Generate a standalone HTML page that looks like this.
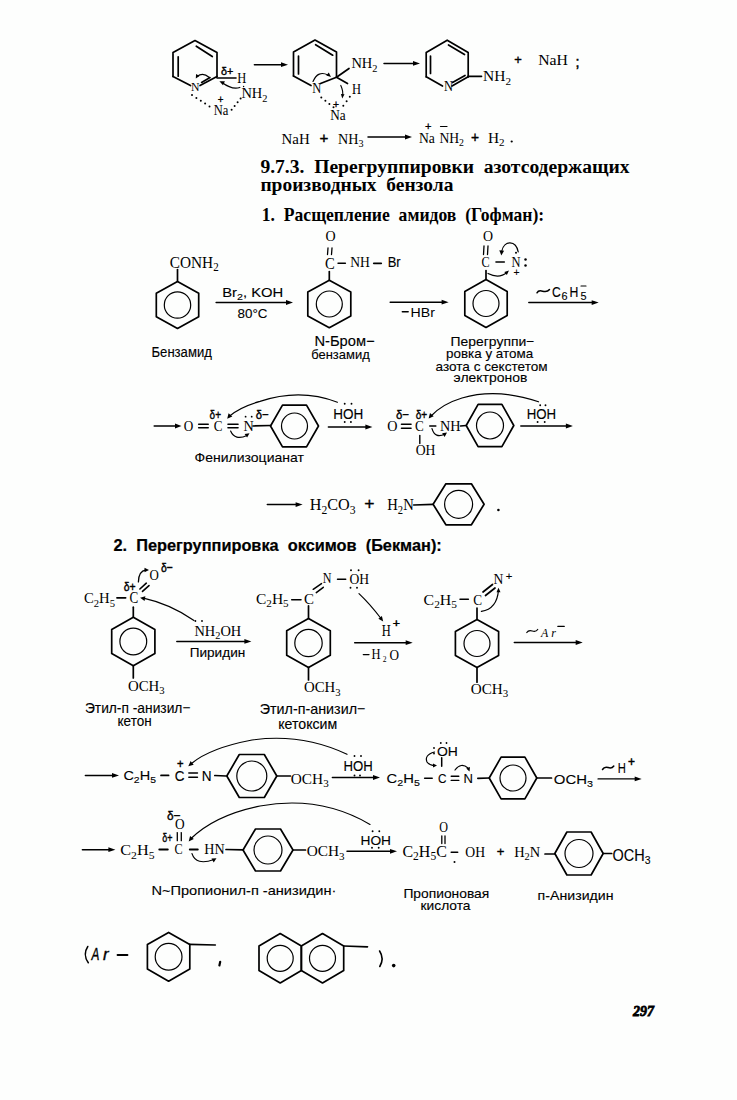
<!DOCTYPE html>
<html><head><meta charset="utf-8"><style>
html,body{margin:0;padding:0;background:#fdfefd;}
svg{display:block;}
</style></head><body>
<svg width="737" height="1100" viewBox="0 0 737 1100" stroke="#000" stroke-linecap="round">
<rect x="0" y="0" width="737" height="1100" fill="#fdfefd" stroke="none"/>
<polyline points="173.0,76.5 173.0,52.5 195.0,40.5 217.0,52.5 217.0,76.5" fill="none" stroke-width="1.7" stroke-linejoin="round"/>
<line x1="173.0" y1="76.5" x2="190.5" y2="85.5" stroke-width="1.7"/>
<line x1="200.0" y1="85.5" x2="217.0" y2="76.5" stroke-width="1.7"/>
<line x1="178.2" y1="56.8" x2="178.2" y2="76.2" stroke-width="1.7"/>
<line x1="196.3" y1="46.2" x2="212.3" y2="56.5" stroke-width="1.7"/>
<line x1="201.6" y1="82.4" x2="210.0" y2="77.6" stroke-width="1.7"/>
<g transform="translate(191.00,91.20) scale(0.9028,1)" font-family="Liberation Serif" font-weight="normal" font-style="normal" xml:space="preserve" stroke="#000" stroke-width="0.0" fill="#000"><text x="0.00" y="0.00" font-size="13.08">N</text></g>
<line x1="217.0" y1="78.0" x2="236.0" y2="78.0" stroke-width="1.6"/>
<g transform="translate(237.30,83.00) scale(0.9028,1)" font-family="Liberation Serif" font-weight="normal" font-style="normal" xml:space="preserve" stroke="#000" stroke-width="0.0" fill="#000"><text x="0.00" y="0.00" font-size="13.85">H</text></g>
<g transform="translate(221.00,74.80) scale(0.9441,1)" font-family="Liberation Sans" font-weight="normal" font-style="normal" xml:space="preserve" stroke="#000" stroke-width="0.4" fill="#000"><text x="0.00" y="0.00" font-size="11.43">δ+</text></g>
<g transform="translate(241.40,98.40) scale(0.9897,1)" font-family="Liberation Serif" font-weight="normal" font-style="normal" xml:space="preserve" stroke="#000" stroke-width="0.0" fill="#000"><text x="0.00" y="0.00" font-size="14.62">NH</text><text x="21.11" y="3.33" font-size="10.52">2</text></g>
<circle cx="243.6" cy="86.5" r="0.7" stroke="none" fill="#000"/>
<g transform="translate(213.70,114.70) scale(0.8596,1)" font-family="Liberation Serif" font-weight="normal" font-style="normal" xml:space="preserve" stroke="#000" stroke-width="0.0" fill="#000"><text x="0.00" y="0.00" font-size="14.62">Na</text></g>
<g transform="translate(217.80,102.50) scale(0.9828,1)" font-family="Liberation Sans" font-weight="normal" font-style="normal" xml:space="preserve" stroke="#000" stroke-width="0.3" fill="#000"><text x="0.00" y="0.00" font-size="10.00">+</text></g>
<circle cx="192.0" cy="95.0" r="1.0" stroke="none" fill="#000"/>
<circle cx="196.4" cy="97.9" r="1.0" stroke="none" fill="#000"/>
<circle cx="200.8" cy="100.8" r="1.0" stroke="none" fill="#000"/>
<circle cx="205.1" cy="103.6" r="1.0" stroke="none" fill="#000"/>
<circle cx="209.5" cy="106.5" r="1.0" stroke="none" fill="#000"/>
<circle cx="231.6" cy="109.8" r="1.0" stroke="none" fill="#000"/>
<circle cx="234.6" cy="106.0" r="1.0" stroke="none" fill="#000"/>
<circle cx="237.6" cy="102.2" r="1.0" stroke="none" fill="#000"/>
<circle cx="240.6" cy="98.4" r="1.0" stroke="none" fill="#000"/>
<path d="M239.8,87.5 Q232,90 222,82.5" fill="none" stroke-width="1.3"/>
<polygon points="219.4,81.2 223.0,85.3 224.9,81.3" stroke="none" fill="#000"/>
<path d="M209,77.3 Q203,72 197,76.5" fill="none" stroke-width="1.2"/>
<polygon points="195.8,78.5 199.5,76.0 196.1,74.0" stroke="none" fill="#000"/>
<line x1="254.4" y1="64.7" x2="283.8" y2="64.7" stroke-width="1.5"/>
<polygon points="288.0,64.7 281.0,62.3 281.0,67.1" stroke="none" fill="#000"/>
<polyline points="293.5,76.0 293.5,52.0 315.0,40.0 336.5,52.0 336.5,77.2" fill="none" stroke-width="1.7" stroke-linejoin="round"/>
<line x1="293.5" y1="76.0" x2="311.0" y2="85.5" stroke-width="1.7"/>
<line x1="320.5" y1="83.5" x2="336.5" y2="77.2" stroke-width="1.7"/>
<line x1="298.5" y1="56.0" x2="298.5" y2="74.0" stroke-width="1.7"/>
<line x1="315.6" y1="44.7" x2="332.7" y2="55.2" stroke-width="1.7"/>
<g transform="translate(312.30,92.70) scale(0.8553,1)" font-family="Liberation Serif" font-weight="normal" font-style="normal" xml:space="preserve" stroke="#000" stroke-width="0.0" fill="#000"><text x="0.00" y="0.00" font-size="14.62">N</text></g>
<line x1="336.5" y1="77.2" x2="349.0" y2="68.5" stroke-width="1.7"/>
<g transform="translate(351.40,68.30) scale(0.9897,1)" font-family="Liberation Serif" font-weight="normal" font-style="normal" xml:space="preserve" stroke="#000" stroke-width="0.0" fill="#000"><text x="0.00" y="0.00" font-size="14.62">NH</text><text x="21.11" y="3.33" font-size="10.52">2</text></g>
<line x1="336.5" y1="77.2" x2="347.5" y2="83.5" stroke-width="1.7"/>
<g transform="translate(352.00,93.50) scale(0.8553,1)" font-family="Liberation Serif" font-weight="normal" font-style="normal" xml:space="preserve" stroke="#000" stroke-width="0.0" fill="#000"><text x="0.00" y="0.00" font-size="14.62">H</text></g>
<path d="M313,81.5 Q318,70 328,75" fill="none" stroke-width="1.2"/>
<polygon points="331.0,77.0 328.8,72.6 326.3,75.6" stroke="none" fill="#000"/>
<path d="M340.8,85.4 Q343.5,91 342.5,96" fill="none" stroke-width="1.1"/>
<polygon points="342.3,98.6 344.5,94.3 340.9,94.0" stroke="none" fill="#000"/>
<circle cx="321.3" cy="97.6" r="1.0" stroke="none" fill="#000"/>
<circle cx="325.4" cy="100.8" r="1.0" stroke="none" fill="#000"/>
<circle cx="329.4" cy="104.1" r="1.0" stroke="none" fill="#000"/>
<circle cx="333.5" cy="107.3" r="1.0" stroke="none" fill="#000"/>
<circle cx="349.8" cy="96.8" r="1.0" stroke="none" fill="#000"/>
<circle cx="346.6" cy="101.2" r="1.0" stroke="none" fill="#000"/>
<circle cx="343.3" cy="105.7" r="1.0" stroke="none" fill="#000"/>
<g transform="translate(333.00,107.50) scale(1.0345,1)" font-family="Liberation Sans" font-weight="normal" font-style="normal" xml:space="preserve" stroke="#000" stroke-width="0.3" fill="#000"><text x="0.00" y="0.00" font-size="10.00">+</text></g>
<g transform="translate(330.20,120.40) scale(0.9064,1)" font-family="Liberation Serif" font-weight="normal" font-style="normal" xml:space="preserve" stroke="#000" stroke-width="0.0" fill="#000"><text x="0.00" y="0.00" font-size="14.62">Na</text></g>
<line x1="384.0" y1="63.4" x2="415.8" y2="63.4" stroke-width="1.5"/>
<polygon points="420.0,63.4 413.0,61.0 413.0,65.8" stroke="none" fill="#000"/>
<polyline points="426.2,76.8 426.2,52.4 447.2,40.2 468.2,52.4 468.2,76.8" fill="none" stroke-width="1.7" stroke-linejoin="round"/>
<line x1="426.2" y1="76.8" x2="442.5" y2="86.0" stroke-width="1.7"/>
<line x1="452.0" y1="86.0" x2="468.2" y2="76.8" stroke-width="1.7"/>
<line x1="430.5" y1="56.0" x2="430.5" y2="73.5" stroke-width="1.7"/>
<line x1="448.5" y1="45.0" x2="464.5" y2="54.5" stroke-width="1.7"/>
<line x1="452.5" y1="82.5" x2="465.0" y2="75.5" stroke-width="1.7"/>
<g transform="translate(444.00,91.00) scale(0.9028,1)" font-family="Liberation Serif" font-weight="normal" font-style="normal" xml:space="preserve" stroke="#000" stroke-width="0.0" fill="#000"><text x="0.00" y="0.00" font-size="13.85">N</text></g>
<line x1="468.0" y1="76.3" x2="481.5" y2="76.3" stroke-width="1.7"/>
<g transform="translate(483.00,81.30) scale(1.0617,1)" font-family="Liberation Serif" font-weight="normal" font-style="normal" xml:space="preserve" stroke="#000" stroke-width="0.0" fill="#000"><text x="0.00" y="0.00" font-size="14.62">NH</text><text x="21.11" y="3.33" font-size="10.52">2</text></g>
<g transform="translate(514.30,64.00) scale(0.9528,1)" font-family="Liberation Sans" font-weight="normal" font-style="normal" xml:space="preserve" stroke="#000" stroke-width="0.4" fill="#000"><text x="0.00" y="0.00" font-size="13.57">+</text></g>
<g transform="translate(538.20,65.20) scale(1.0458,1)" font-family="Liberation Serif" font-weight="normal" font-style="normal" xml:space="preserve" stroke="#000" stroke-width="0.0" fill="#000"><text x="0.00" y="0.00" font-size="15.08">NaH</text></g>
<g transform="translate(575.50,67.00) scale(0.9524,1)" font-family="Liberation Sans" font-weight="normal" font-style="normal" xml:space="preserve" stroke="#000" stroke-width="0.5" fill="#000"><text x="0.00" y="0.00" font-size="15.00">;</text></g>
<g transform="translate(281.50,143.60) scale(0.9998,1)" font-family="Liberation Serif" font-weight="normal" font-style="normal" xml:space="preserve" stroke="#000" stroke-width="0.0" fill="#000"><text x="0.00" y="0.00" font-size="14.92">NaH</text></g>
<g transform="translate(319.40,142.50) scale(1.0621,1)" font-family="Liberation Sans" font-weight="normal" font-style="normal" xml:space="preserve" stroke="#000" stroke-width="0.4" fill="#000"><text x="0.00" y="0.00" font-size="14.29">+</text></g>
<g transform="translate(338.00,143.60) scale(0.9470,1)" font-family="Liberation Serif" font-weight="normal" font-style="normal" xml:space="preserve" stroke="#000" stroke-width="0.0" fill="#000"><text x="0.00" y="0.00" font-size="14.92">NH</text><text x="21.55" y="3.40" font-size="10.74">3</text></g>
<line x1="368.0" y1="137.0" x2="407.8" y2="137.0" stroke-width="1.5"/>
<polygon points="412.0,137.0 405.0,134.6 405.0,139.4" stroke="none" fill="#000"/>
<g transform="translate(419.00,142.70) scale(0.9164,1)" font-family="Liberation Serif" font-weight="normal" font-style="normal" xml:space="preserve" stroke="#000" stroke-width="0.0" fill="#000"><text x="0.00" y="0.00" font-size="14.92">Na</text></g>
<g transform="translate(425.00,130.00) scale(0.9655,1)" font-family="Liberation Sans" font-weight="normal" font-style="normal" xml:space="preserve" stroke="#000" stroke-width="0.3" fill="#000"><text x="0.00" y="0.00" font-size="11.43">+</text></g>
<g transform="translate(439.40,142.70) scale(0.9136,1)" font-family="Liberation Serif" font-weight="normal" font-style="normal" xml:space="preserve" stroke="#000" stroke-width="0.0" fill="#000"><text x="0.00" y="0.00" font-size="14.92">NH</text><text x="21.55" y="3.40" font-size="10.74">2</text></g>
<line x1="440.5" y1="126.5" x2="447.0" y2="126.5" stroke-width="1.2"/>
<g transform="translate(471.00,141.50) scale(0.9655,1)" font-family="Liberation Sans" font-weight="normal" font-style="normal" xml:space="preserve" stroke="#000" stroke-width="0.4" fill="#000"><text x="0.00" y="0.00" font-size="14.29">+</text></g>
<g transform="translate(488.00,142.70) scale(1.0279,1)" font-family="Liberation Serif" font-weight="normal" font-style="normal" xml:space="preserve" stroke="#000" stroke-width="0.0" fill="#000"><text x="0.00" y="0.00" font-size="14.92">H</text><text x="10.78" y="3.40" font-size="10.74">2</text></g>
<circle cx="511.7" cy="141.5" r="1.1" stroke="none" fill="#000"/>
<g transform="translate(260.40,173.00) scale(1.0789,1)" font-family="Liberation Serif" font-weight="bold" font-style="normal" xml:space="preserve" stroke="#000" stroke-width="0" fill="#000"><text x="0.00" y="0.00" font-size="18.15">9.7.3.  Перегруппировки  азотсодержащих</text></g>
<g transform="translate(260.40,190.80) scale(1.0717,1)" font-family="Liberation Serif" font-weight="bold" font-style="normal" xml:space="preserve" stroke="#000" stroke-width="0" fill="#000"><text x="0.00" y="0.00" font-size="18.15">производных  бензола</text></g>
<g transform="translate(261.80,221.00) scale(0.9390,1)" font-family="Liberation Serif" font-weight="bold" font-style="normal" xml:space="preserve" stroke="#000" stroke-width="0" fill="#000"><text x="0.00" y="0.00" font-size="18.77">1.  Расщепление  амидов  (Гофман):</text></g>
<polygon points="177.5,281.5 198.7,293.2 198.7,316.8 177.5,328.5 156.3,316.8 156.3,293.2" fill="none" stroke-width="1.7" stroke-linejoin="round"/>
<circle cx="177.5" cy="305.0" r="13.2" fill="none" stroke-width="1.2"/>
<line x1="177.5" y1="281.5" x2="177.5" y2="269.5" stroke-width="1.7"/>
<g transform="translate(169.80,267.80) scale(0.9479,1)" font-family="Liberation Serif" font-weight="normal" font-style="normal" xml:space="preserve" stroke="#000" stroke-width="0.0" fill="#000"><text x="0.00" y="0.00" font-size="16.15">CONH</text><text x="45.77" y="3.68" font-size="11.63">2</text></g>
<g transform="translate(151.50,357.40) scale(0.9171,1)" font-family="Liberation Sans" font-weight="normal" font-style="normal" xml:space="preserve" stroke="#000" stroke-width="0.12" fill="#000"><text x="0.00" y="0.00" font-size="14.29">Бензамид</text></g>
<line x1="216.1" y1="302.5" x2="288.8" y2="302.5" stroke-width="1.5"/>
<polygon points="293.0,302.5 286.0,300.1 286.0,304.9" stroke="none" fill="#000"/>
<g transform="translate(222.20,297.00) scale(1.0926,1)" font-family="Liberation Sans" font-weight="normal" font-style="normal" xml:space="preserve" stroke="#000" stroke-width="0.12" fill="#000"><text x="0.00" y="0.00" font-size="13.57">Br</text><text x="13.57" y="3.32" font-size="9.77">2</text><text x="19.01" y="0.00" font-size="13.57">, KOH</text></g>
<g transform="translate(237.50,317.70) scale(0.9880,1)" font-family="Liberation Sans" font-weight="normal" font-style="normal" xml:space="preserve" stroke="#000" stroke-width="0.12" fill="#000"><text x="0.00" y="0.00" font-size="13.57">80°C</text></g>
<polygon points="329.3,280.3 350.8,292.1 350.8,315.9 329.3,327.7 307.8,315.9 307.8,292.1" fill="none" stroke-width="1.7" stroke-linejoin="round"/>
<circle cx="329.3" cy="304.0" r="13.0" fill="none" stroke-width="1.2"/>
<line x1="329.3" y1="280.3" x2="329.3" y2="271.5" stroke-width="1.7"/>
<g transform="translate(325.00,268.60) scale(0.9055,1)" font-family="Liberation Serif" font-weight="normal" font-style="normal" xml:space="preserve" stroke="#000" stroke-width="0.0" fill="#000"><text x="0.00" y="0.00" font-size="16.15">C</text></g>
<line x1="328.0" y1="248.0" x2="327.5" y2="254.5" stroke-width="1.3"/>
<line x1="332.0" y1="248.0" x2="331.5" y2="254.5" stroke-width="1.3"/>
<g transform="translate(325.50,241.30) scale(0.9118,1)" font-family="Liberation Serif" font-weight="normal" font-style="normal" xml:space="preserve" stroke="#000" stroke-width="0.0" fill="#000"><text x="0.00" y="0.00" font-size="15.38">O</text></g>
<line x1="338.0" y1="263.3" x2="345.4" y2="263.3" stroke-width="1.4"/>
<g transform="translate(350.20,267.30) scale(0.8847,1)" font-family="Liberation Serif" font-weight="normal" font-style="normal" xml:space="preserve" stroke="#000" stroke-width="0.0" fill="#000"><text x="0.00" y="0.00" font-size="15.38">NH</text></g>
<line x1="373.8" y1="263.3" x2="381.2" y2="263.3" stroke-width="1.8"/>
<g transform="translate(387.70,267.30) scale(0.9100,1)" font-family="Liberation Sans" font-weight="normal" font-style="normal" xml:space="preserve" stroke="#000" stroke-width="0.12" fill="#000"><text x="0.00" y="0.00" font-size="14.29">Br</text></g>
<g transform="translate(314.40,346.30) scale(1.0295,1)" font-family="Liberation Sans" font-weight="normal" font-style="normal" xml:space="preserve" stroke="#000" stroke-width="0.12" fill="#000"><text x="0.00" y="0.00" font-size="14.29">N-Бром−</text></g>
<g transform="translate(311.20,359.30) scale(0.9574,1)" font-family="Liberation Sans" font-weight="normal" font-style="normal" xml:space="preserve" stroke="#000" stroke-width="0.12" fill="#000"><text x="0.00" y="0.00" font-size="13.57">бензамид</text></g>
<line x1="390.2" y1="302.2" x2="444.4" y2="302.2" stroke-width="1.5"/>
<polygon points="448.6,302.2 441.6,299.8 441.6,304.6" stroke="none" fill="#000"/>
<line x1="402.3" y1="311.8" x2="408.2" y2="311.8" stroke-width="1.4"/>
<g transform="translate(410.60,316.60) scale(1.0988,1)" font-family="Liberation Sans" font-weight="normal" font-style="normal" xml:space="preserve" stroke="#000" stroke-width="0" fill="#000"><text x="0.00" y="0.00" font-size="12.86">HBr</text></g>
<polygon points="486.0,279.5 507.2,291.5 507.2,315.5 486.0,327.5 464.8,315.5 464.8,291.5" fill="none" stroke-width="1.7" stroke-linejoin="round"/>
<circle cx="486.0" cy="303.5" r="13.0" fill="none" stroke-width="1.2"/>
<line x1="486.0" y1="279.5" x2="486.0" y2="270.6" stroke-width="1.7"/>
<g transform="translate(481.50,267.00) scale(0.8374,1)" font-family="Liberation Serif" font-weight="normal" font-style="normal" xml:space="preserve" stroke="#000" stroke-width="0.0" fill="#000"><text x="0.00" y="0.00" font-size="14.62">C</text></g>
<line x1="484.0" y1="246.0" x2="483.5" y2="254.5" stroke-width="1.3"/>
<line x1="488.0" y1="246.0" x2="487.5" y2="254.5" stroke-width="1.3"/>
<g transform="translate(483.00,241.30) scale(0.9503,1)" font-family="Liberation Serif" font-weight="normal" font-style="normal" xml:space="preserve" stroke="#000" stroke-width="0.0" fill="#000"><text x="0.00" y="0.00" font-size="14.62">O</text></g>
<line x1="496.0" y1="262.0" x2="504.3" y2="262.0" stroke-width="1.6"/>
<g transform="translate(511.60,267.00) scale(0.8553,1)" font-family="Liberation Serif" font-weight="normal" font-style="normal" xml:space="preserve" stroke="#000" stroke-width="0.0" fill="#000"><text x="0.00" y="0.00" font-size="14.62">N</text></g>
<circle cx="525.5" cy="259.5" r="1.25" stroke="none" fill="#000"/>
<circle cx="525.5" cy="265.5" r="1.25" stroke="none" fill="#000"/>
<circle cx="516.0" cy="252.7" r="1.0" stroke="none" fill="#000"/>
<g transform="translate(513.50,275.50) scale(0.9052,1)" font-family="Liberation Sans" font-weight="normal" font-style="normal" xml:space="preserve" stroke="#000" stroke-width="0.12" fill="#000"><text x="0.00" y="0.00" font-size="11.43">+</text></g>
<path d="M518.2,251.9 C516,240 504,240 501.8,251" fill="none" stroke-width="1.2"/>
<polygon points="501.3,255.5 504.1,250.7 499.3,250.3" stroke="none" fill="#000"/>
<path d="M488,273.5 Q499,279 507,272.5" fill="none" stroke-width="1.2"/>
<polygon points="509.0,270.5 504.3,271.9 506.8,274.9" stroke="none" fill="#000"/>
<g transform="translate(450.60,346.30) scale(1.0257,1)" font-family="Liberation Sans" font-weight="normal" font-style="normal" xml:space="preserve" stroke="#000" stroke-width="0.12" fill="#000"><text x="0.00" y="0.00" font-size="13.57">Перегруппи−</text></g>
<g transform="translate(446.00,358.20) scale(0.9896,1)" font-family="Liberation Sans" font-weight="normal" font-style="normal" xml:space="preserve" stroke="#000" stroke-width="0.12" fill="#000"><text x="0.00" y="0.00" font-size="13.57">ровка у атома</text></g>
<g transform="translate(435.50,370.70) scale(1.0021,1)" font-family="Liberation Sans" font-weight="normal" font-style="normal" xml:space="preserve" stroke="#000" stroke-width="0.12" fill="#000"><text x="0.00" y="0.00" font-size="13.57">азота с секстетом</text></g>
<g transform="translate(453.60,381.80) scale(1.0280,1)" font-family="Liberation Sans" font-weight="normal" font-style="normal" xml:space="preserve" stroke="#000" stroke-width="0.12" fill="#000"><text x="0.00" y="0.00" font-size="13.57">электронов</text></g>
<line x1="528.8" y1="302.6" x2="594.5" y2="302.6" stroke-width="1.5"/>
<polygon points="598.7,302.6 591.7,300.2 591.7,305.0" stroke="none" fill="#000"/>
<path d="M537,292.8 C540,287 545,295.5 549.5,289.5" fill="none" stroke-width="1.5"/>
<g transform="translate(552.00,296.50) scale(0.8292,1)" font-family="Liberation Sans" font-weight="normal" font-style="normal" xml:space="preserve" stroke="#000" stroke-width="0.12" fill="#000"><text x="0.00" y="0.00" font-size="14.57">C</text></g>
<g transform="translate(561.40,299.50) scale(1.0033,1)" font-family="Liberation Sans" font-weight="normal" font-style="normal" xml:space="preserve" stroke="#000" stroke-width="0.12" fill="#000"><text x="0.00" y="0.00" font-size="10.86">6</text></g>
<g transform="translate(569.50,296.50) scale(0.8388,1)" font-family="Liberation Sans" font-weight="normal" font-style="normal" xml:space="preserve" stroke="#000" stroke-width="0.12" fill="#000"><text x="0.00" y="0.00" font-size="14.57">H</text></g>
<g transform="translate(580.40,299.50) scale(1.0033,1)" font-family="Liberation Sans" font-weight="normal" font-style="normal" xml:space="preserve" stroke="#000" stroke-width="0.12" fill="#000"><text x="0.00" y="0.00" font-size="10.86">5</text></g>
<line x1="581.0" y1="286.0" x2="586.0" y2="286.0" stroke-width="1.1"/>
<line x1="154.2" y1="426.0" x2="177.6" y2="426.0" stroke-width="1.5"/>
<polygon points="181.5,426.0 175.0,423.6 175.0,428.4" stroke="none" fill="#000"/>
<g transform="translate(183.80,431.00) scale(0.8576,1)" font-family="Liberation Serif" font-weight="normal" font-style="normal" xml:space="preserve" stroke="#000" stroke-width="0.0" fill="#000"><text x="0.00" y="0.00" font-size="15.38">O</text></g>
<line x1="198.7" y1="424.2" x2="208.2" y2="424.2" stroke-width="1.6"/>
<line x1="198.7" y1="427.8" x2="208.2" y2="427.8" stroke-width="1.6"/>
<g transform="translate(213.70,431.00) scale(0.8537,1)" font-family="Liberation Serif" font-weight="normal" font-style="normal" xml:space="preserve" stroke="#000" stroke-width="0.0" fill="#000"><text x="0.00" y="0.00" font-size="15.38">C</text></g>
<g transform="translate(209.60,419.40) scale(0.7778,1)" font-family="Liberation Sans" font-weight="normal" font-style="normal" xml:space="preserve" stroke="#000" stroke-width="0.4" fill="#000"><text x="0.00" y="0.00" font-size="12.86">δ+</text></g>
<line x1="228.0" y1="424.2" x2="238.0" y2="424.2" stroke-width="1.6"/>
<line x1="228.0" y1="427.8" x2="238.0" y2="427.8" stroke-width="1.6"/>
<g transform="translate(243.50,431.00) scale(0.9208,1)" font-family="Liberation Serif" font-weight="normal" font-style="normal" xml:space="preserve" stroke="#000" stroke-width="0.0" fill="#000"><text x="0.00" y="0.00" font-size="15.38">N</text></g>
<circle cx="245.6" cy="416.7" r="0.9" stroke="none" fill="#000"/>
<circle cx="251.7" cy="416.7" r="0.9" stroke="none" fill="#000"/>
<g transform="translate(255.70,419.40) scale(0.8801,1)" font-family="Liberation Sans" font-weight="normal" font-style="normal" xml:space="preserve" stroke="#000" stroke-width="0.4" fill="#000"><text x="0.00" y="0.00" font-size="12.86">δ−</text></g>
<line x1="253.0" y1="426.0" x2="270.6" y2="425.5" stroke-width="1.7"/>
<polygon points="270.5,426.0 282.5,405.2 306.5,405.2 318.5,426.0 306.5,446.8 282.5,446.8" fill="none" stroke-width="1.7" stroke-linejoin="round"/>
<circle cx="294.5" cy="426.0" r="13.0" fill="none" stroke-width="1.2"/>
<path d="M337.4,402.2 Q300,388 260,401.4 Q240,407 229,416.5" fill="none" stroke-width="1.2"/>
<polygon points="227.2,418.7 232.3,416.4 228.6,413.3" stroke="none" fill="#000"/>
<path d="M230.6,431 Q235,441 247,435.5" fill="none" stroke-width="1.2"/>
<polygon points="249.5,433.2 244.6,434.0 247.1,437.6" stroke="none" fill="#000"/>
<g transform="translate(333.20,418.50) scale(0.9752,1)" font-family="Liberation Sans" font-weight="normal" font-style="normal" xml:space="preserve" stroke="#000" stroke-width="0.12" fill="#000"><text x="0.00" y="0.00" font-size="13.86">HOH</text></g>
<circle cx="344.7" cy="403.8" r="0.95" stroke="none" fill="#000"/>
<circle cx="351.5" cy="403.8" r="0.95" stroke="none" fill="#000"/>
<circle cx="344.7" cy="422.0" r="0.95" stroke="none" fill="#000"/>
<circle cx="350.9" cy="422.0" r="0.95" stroke="none" fill="#000"/>
<line x1="328.4" y1="427.0" x2="368.2" y2="427.0" stroke-width="1.5"/>
<polygon points="372.4,427.0 365.4,424.6 365.4,429.4" stroke="none" fill="#000"/>
<g transform="translate(194.60,462.00) scale(1.0325,1)" font-family="Liberation Sans" font-weight="normal" font-style="normal" xml:space="preserve" stroke="#000" stroke-width="0.12" fill="#000"><text x="0.00" y="0.00" font-size="13.57">Фенилизоцианат</text></g>
<g transform="translate(387.20,431.40) scale(0.9208,1)" font-family="Liberation Serif" font-weight="normal" font-style="normal" xml:space="preserve" stroke="#000" stroke-width="0.0" fill="#000"><text x="0.00" y="0.00" font-size="15.38">O</text></g>
<line x1="401.5" y1="424.2" x2="411.0" y2="424.2" stroke-width="1.6"/>
<line x1="401.5" y1="428.2" x2="411.0" y2="428.2" stroke-width="1.6"/>
<g transform="translate(415.00,431.40) scale(0.8537,1)" font-family="Liberation Serif" font-weight="normal" font-style="normal" xml:space="preserve" stroke="#000" stroke-width="0.0" fill="#000"><text x="0.00" y="0.00" font-size="15.38">C</text></g>
<g transform="translate(396.00,418.50) scale(0.8869,1)" font-family="Liberation Sans" font-weight="normal" font-style="normal" xml:space="preserve" stroke="#000" stroke-width="0.4" fill="#000"><text x="0.00" y="0.00" font-size="12.86">δ−</text></g>
<g transform="translate(415.70,418.50) scale(0.7846,1)" font-family="Liberation Sans" font-weight="normal" font-style="normal" xml:space="preserve" stroke="#000" stroke-width="0.4" fill="#000"><text x="0.00" y="0.00" font-size="12.86">δ+</text></g>
<line x1="429.8" y1="426.0" x2="435.8" y2="426.0" stroke-width="1.6"/>
<g transform="translate(440.00,430.70) scale(0.9253,1)" font-family="Liberation Serif" font-weight="normal" font-style="normal" xml:space="preserve" stroke="#000" stroke-width="0.0" fill="#000"><text x="0.00" y="0.00" font-size="15.38">NH</text></g>
<line x1="460.5" y1="426.0" x2="466.2" y2="425.5" stroke-width="1.7"/>
<polygon points="466.2,425.5 478.1,404.4 501.9,404.4 513.8,425.5 501.9,446.6 478.1,446.6" fill="none" stroke-width="1.7" stroke-linejoin="round"/>
<circle cx="490.0" cy="425.5" r="13.5" fill="none" stroke-width="1.2"/>
<line x1="419.8" y1="435.5" x2="419.8" y2="443.6" stroke-width="1.4"/>
<g transform="translate(415.70,455.10) scale(0.9360,1)" font-family="Liberation Serif" font-weight="normal" font-style="normal" xml:space="preserve" stroke="#000" stroke-width="0.0" fill="#000"><text x="0.00" y="0.00" font-size="14.62">OH</text></g>
<path d="M538.5,401.8 Q497,387.7 462,398 Q442,404 430.5,416.5" fill="none" stroke-width="1.2"/>
<polygon points="428.6,418.5 433.7,416.2 430.0,413.1" stroke="none" fill="#000"/>
<path d="M432,428.7 Q435,439 445,434" fill="none" stroke-width="1.2"/>
<polygon points="447.0,432.5 442.1,433.3 444.6,436.9" stroke="none" fill="#000"/>
<g transform="translate(526.70,418.50) scale(0.9557,1)" font-family="Liberation Sans" font-weight="normal" font-style="normal" xml:space="preserve" stroke="#000" stroke-width="0.12" fill="#000"><text x="0.00" y="0.00" font-size="13.86">HOH</text></g>
<circle cx="540.2" cy="405.3" r="0.95" stroke="none" fill="#000"/>
<circle cx="545.5" cy="405.3" r="0.95" stroke="none" fill="#000"/>
<circle cx="537.6" cy="422.0" r="0.95" stroke="none" fill="#000"/>
<circle cx="544.7" cy="422.0" r="0.95" stroke="none" fill="#000"/>
<line x1="520.8" y1="426.0" x2="568.7" y2="426.0" stroke-width="1.5"/>
<polygon points="572.9,426.0 565.9,423.6 565.9,428.4" stroke="none" fill="#000"/>
<line x1="267.3" y1="504.6" x2="298.4" y2="504.6" stroke-width="1.5"/>
<polygon points="302.6,504.6 295.6,502.2 295.6,507.0" stroke="none" fill="#000"/>
<g transform="translate(309.70,510.30) scale(1.0014,1)" font-family="Liberation Serif" font-weight="normal" font-style="normal" xml:space="preserve" stroke="#000" stroke-width="0.0" fill="#000"><text x="0.00" y="0.00" font-size="16.15">H</text><text x="11.67" y="3.68" font-size="11.63">2</text><text x="17.48" y="0.00" font-size="16.15">CO</text><text x="39.92" y="3.68" font-size="11.63">3</text></g>
<g transform="translate(364.30,509.00) scale(1.1191,1)" font-family="Liberation Sans" font-weight="normal" font-style="normal" xml:space="preserve" stroke="#000" stroke-width="0.3" fill="#000"><text x="0.00" y="0.00" font-size="15.71">+</text></g>
<g transform="translate(387.30,510.30) scale(0.9068,1)" font-family="Liberation Serif" font-weight="normal" font-style="normal" xml:space="preserve" stroke="#000" stroke-width="0.0" fill="#000"><text x="0.00" y="0.00" font-size="16.15">H</text><text x="11.67" y="3.68" font-size="11.63">2</text><text x="17.48" y="0.00" font-size="16.15">N</text></g>
<line x1="413.7" y1="505.0" x2="433.0" y2="504.3" stroke-width="1.7"/>
<polygon points="433.1,504.3 445.9,483.8 471.4,483.8 484.1,504.3 471.4,524.8 445.9,524.8" fill="none" stroke-width="1.7" stroke-linejoin="round"/>
<circle cx="458.6" cy="504.3" r="14.0" fill="none" stroke-width="1.2"/>
<circle cx="498.4" cy="510.0" r="1.3" stroke="none" fill="#000"/>
<g transform="translate(113.50,551.00) scale(1.0395,1)" font-family="Liberation Sans" font-weight="bold" font-style="normal" xml:space="preserve" stroke="#000" stroke-width="0.2" fill="#000"><text x="0.00" y="0.00" font-size="15.71">2.  Перегруппировка  оксимов  (Бекман):</text></g>
<polygon points="133.3,617.2 154.9,629.4 154.9,653.6 133.3,665.8 111.7,653.6 111.7,629.4" fill="none" stroke-width="1.7" stroke-linejoin="round"/>
<circle cx="133.3" cy="641.5" r="13.4" fill="none" stroke-width="1.2"/>
<line x1="133.3" y1="617.2" x2="133.3" y2="607.2" stroke-width="1.7"/>
<g transform="translate(129.60,603.00) scale(0.8131,1)" font-family="Liberation Serif" font-weight="normal" font-style="normal" xml:space="preserve" stroke="#000" stroke-width="0.0" fill="#000"><text x="0.00" y="0.00" font-size="16.15">C</text></g>
<g transform="translate(84.00,603.10) scale(0.9748,1)" font-family="Liberation Serif" font-weight="normal" font-style="normal" xml:space="preserve" stroke="#000" stroke-width="0.0" fill="#000"><text x="0.00" y="0.00" font-size="15.08">C</text><text x="10.06" y="3.43" font-size="10.86">2</text><text x="15.48" y="0.00" font-size="15.08">H</text><text x="26.37" y="3.43" font-size="10.86">5</text></g>
<line x1="117.0" y1="597.8" x2="125.6" y2="597.8" stroke-width="1.8"/>
<g transform="translate(123.80,590.70) scale(0.7692,1)" font-family="Liberation Sans" font-weight="normal" font-style="normal" xml:space="preserve" stroke="#000" stroke-width="0.45" fill="#000"><text x="0.00" y="0.00" font-size="13.57">δ+</text></g>
<line x1="139.9" y1="589.0" x2="146.3" y2="583.2" stroke-width="1.6"/>
<line x1="142.5" y1="591.4" x2="149.0" y2="585.6" stroke-width="1.6"/>
<g transform="translate(149.40,579.70) scale(0.8396,1)" font-family="Liberation Serif" font-weight="normal" font-style="normal" xml:space="preserve" stroke="#000" stroke-width="0.0" fill="#000"><text x="0.00" y="0.00" font-size="15.38">O</text></g>
<g transform="translate(160.90,571.80) scale(0.7692,1)" font-family="Liberation Sans" font-weight="normal" font-style="normal" xml:space="preserve" stroke="#000" stroke-width="0.45" fill="#000"><text x="0.00" y="0.00" font-size="13.57">δ−</text></g>
<path d="M138.4,581.9 Q138.5,571 146,569.8" fill="none" stroke-width="1.3"/>
<polygon points="149.0,570.0 144.5,567.7 144.5,572.3" stroke="none" fill="#000"/>
<path d="M194,620.5 Q170,604 143.5,598.2" fill="none" stroke-width="1.2"/>
<polygon points="140.1,597.8 144.6,601.0 145.4,596.3" stroke="none" fill="#000"/>
<line x1="133.3" y1="665.8" x2="133.3" y2="678.0" stroke-width="1.7"/>
<g transform="translate(128.00,691.00) scale(0.9849,1)" font-family="Liberation Serif" font-weight="normal" font-style="normal" xml:space="preserve" stroke="#000" stroke-width="0.0" fill="#000"><text x="0.00" y="0.00" font-size="15.08">OCH</text><text x="31.83" y="3.43" font-size="10.86">3</text></g>
<g transform="translate(84.90,712.90) scale(0.9121,1)" font-family="Liberation Sans" font-weight="normal" font-style="normal" xml:space="preserve" stroke="#000" stroke-width="0.12" fill="#000"><text x="0.00" y="0.00" font-size="15.14">Этил-п -анизил−</text></g>
<g transform="translate(117.50,726.00) scale(0.9277,1)" font-family="Liberation Sans" font-weight="normal" font-style="normal" xml:space="preserve" stroke="#000" stroke-width="0.12" fill="#000"><text x="0.00" y="0.00" font-size="14.57">кетон</text></g>
<line x1="176.8" y1="641.4" x2="247.2" y2="641.4" stroke-width="1.5"/>
<polygon points="251.4,641.4 244.4,639.0 244.4,643.8" stroke="none" fill="#000"/>
<g transform="translate(194.40,636.00) scale(0.9870,1)" font-family="Liberation Serif" font-weight="normal" font-style="normal" xml:space="preserve" stroke="#000" stroke-width="0.0" fill="#000"><text x="0.00" y="0.00" font-size="14.62">NH</text><text x="21.11" y="3.33" font-size="10.52">2</text><text x="26.37" y="0.00" font-size="14.62">OH</text></g>
<circle cx="195.4" cy="621.0" r="0.9" stroke="none" fill="#000"/>
<circle cx="202.0" cy="621.0" r="0.9" stroke="none" fill="#000"/>
<g transform="translate(189.70,657.00) scale(1.0017,1)" font-family="Liberation Sans" font-weight="normal" font-style="normal" xml:space="preserve" stroke="#000" stroke-width="0.12" fill="#000"><text x="0.00" y="0.00" font-size="13.57">Пиридин</text></g>
<polygon points="308.5,618.5 330.3,630.8 330.3,655.2 308.5,667.5 286.7,655.2 286.7,630.8" fill="none" stroke-width="1.7" stroke-linejoin="round"/>
<circle cx="308.5" cy="643.0" r="13.7" fill="none" stroke-width="1.2"/>
<line x1="308.5" y1="618.5" x2="308.5" y2="605.8" stroke-width="1.7"/>
<g transform="translate(304.00,603.80) scale(1.0212,1)" font-family="Liberation Serif" font-weight="normal" font-style="normal" xml:space="preserve" stroke="#000" stroke-width="0.0" fill="#000"><text x="0.00" y="0.00" font-size="14.62">C</text></g>
<g transform="translate(256.00,603.80) scale(1.0608,1)" font-family="Liberation Serif" font-weight="normal" font-style="normal" xml:space="preserve" stroke="#000" stroke-width="0.0" fill="#000"><text x="0.00" y="0.00" font-size="14.62">C</text><text x="9.75" y="3.33" font-size="10.52">2</text><text x="15.01" y="0.00" font-size="14.62">H</text><text x="25.57" y="3.33" font-size="10.52">5</text></g>
<line x1="291.7" y1="599.7" x2="301.0" y2="599.7" stroke-width="1.5"/>
<line x1="313.2" y1="589.3" x2="321.5" y2="583.6" stroke-width="1.5"/>
<line x1="316.3" y1="592.6" x2="323.3" y2="587.3" stroke-width="1.5"/>
<g transform="translate(322.80,583.30) scale(0.8097,1)" font-family="Liberation Serif" font-weight="normal" font-style="normal" xml:space="preserve" stroke="#000" stroke-width="0" fill="#000"><text x="0.00" y="0.00" font-size="14.92">N</text></g>
<line x1="337.5" y1="579.3" x2="345.7" y2="579.3" stroke-width="1.5"/>
<g transform="translate(349.40,584.40) scale(0.9313,1)" font-family="Liberation Serif" font-weight="normal" font-style="normal" xml:space="preserve" stroke="#000" stroke-width="0" fill="#000"><text x="0.00" y="0.00" font-size="14.62">OH</text></g>
<circle cx="351.0" cy="570.3" r="0.95" stroke="none" fill="#000"/>
<circle cx="358.6" cy="570.3" r="0.95" stroke="none" fill="#000"/>
<circle cx="350.5" cy="587.7" r="0.95" stroke="none" fill="#000"/>
<circle cx="357.0" cy="587.7" r="0.95" stroke="none" fill="#000"/>
<path d="M359,593.6 Q370,604 381,618.5" fill="none" stroke-width="1.2"/>
<polygon points="383.2,621.4 381.9,616.1 378.4,618.8" stroke="none" fill="#000"/>
<g transform="translate(381.80,635.60) scale(0.7812,1)" font-family="Liberation Serif" font-weight="normal" font-style="normal" xml:space="preserve" stroke="#000" stroke-width="0" fill="#000"><text x="0.00" y="0.00" font-size="16.00">H</text></g>
<g transform="translate(392.70,627.00) scale(1.1586,1)" font-family="Liberation Sans" font-weight="normal" font-style="normal" xml:space="preserve" stroke="#000" stroke-width="0.45" fill="#000"><text x="0.00" y="0.00" font-size="10.71">+</text></g>
<line x1="308.5" y1="667.5" x2="308.5" y2="680.0" stroke-width="1.7"/>
<g transform="translate(304.00,692.30) scale(1.0133,1)" font-family="Liberation Serif" font-weight="normal" font-style="normal" xml:space="preserve" stroke="#000" stroke-width="0.0" fill="#000"><text x="0.00" y="0.00" font-size="14.62">OCH</text><text x="30.86" y="3.33" font-size="10.52">3</text></g>
<g transform="translate(259.70,714.40) scale(0.9467,1)" font-family="Liberation Sans" font-weight="normal" font-style="normal" xml:space="preserve" stroke="#000" stroke-width="0.12" fill="#000"><text x="0.00" y="0.00" font-size="15.14">Этил-п-анизил−</text></g>
<g transform="translate(278.20,728.50) scale(1.0123,1)" font-family="Liberation Sans" font-weight="normal" font-style="normal" xml:space="preserve" stroke="#000" stroke-width="0.12" fill="#000"><text x="0.00" y="0.00" font-size="14.00">кетоксим</text></g>
<line x1="354.7" y1="642.7" x2="408.5" y2="642.7" stroke-width="1.5"/>
<polygon points="412.7,642.7 405.7,640.3 405.7,645.1" stroke="none" fill="#000"/>
<line x1="363.3" y1="654.6" x2="369.0" y2="654.6" stroke-width="1.3"/>
<g transform="translate(371.40,659.40) scale(0.8929,1)" font-family="Liberation Serif" font-weight="normal" font-style="normal" xml:space="preserve" stroke="#000" stroke-width="0" fill="#000"><text x="0.00" y="0.00" font-size="14.00">H</text></g>
<g transform="translate(382.80,662.20) scale(0.8233,1)" font-family="Liberation Serif" font-weight="normal" font-style="normal" xml:space="preserve" stroke="#000" stroke-width="0" fill="#000"><text x="0.00" y="0.00" font-size="9.23">2</text></g>
<g transform="translate(389.40,659.60) scale(0.8751,1)" font-family="Liberation Serif" font-weight="normal" font-style="normal" xml:space="preserve" stroke="#000" stroke-width="0" fill="#000"><text x="0.00" y="0.00" font-size="15.08">O</text></g>
<polygon points="477.0,619.5 498.6,631.5 498.6,655.5 477.0,667.5 455.4,655.5 455.4,631.5" fill="none" stroke-width="1.7" stroke-linejoin="round"/>
<circle cx="477.0" cy="643.5" r="13.0" fill="none" stroke-width="1.2"/>
<line x1="477.0" y1="619.5" x2="477.0" y2="608.0" stroke-width="1.7"/>
<g transform="translate(473.30,605.00) scale(0.9089,1)" font-family="Liberation Serif" font-weight="normal" font-style="normal" xml:space="preserve" stroke="#000" stroke-width="0.0" fill="#000"><text x="0.00" y="0.00" font-size="14.62">C</text></g>
<g transform="translate(423.60,605.00) scale(1.0835,1)" font-family="Liberation Serif" font-weight="normal" font-style="normal" xml:space="preserve" stroke="#000" stroke-width="0.0" fill="#000"><text x="0.00" y="0.00" font-size="14.62">C</text><text x="9.75" y="3.33" font-size="10.52">2</text><text x="15.01" y="0.00" font-size="14.62">H</text><text x="25.57" y="3.33" font-size="10.52">5</text></g>
<line x1="460.0" y1="599.2" x2="468.4" y2="599.2" stroke-width="1.5"/>
<line x1="483.0" y1="592.0" x2="492.5" y2="584.5" stroke-width="1.7"/>
<line x1="485.5" y1="595.5" x2="495.0" y2="588.0" stroke-width="1.7"/>
<g transform="translate(493.60,583.70) scale(0.9830,1)" font-family="Liberation Serif" font-weight="normal" font-style="normal" xml:space="preserve" stroke="#000" stroke-width="0.0" fill="#000"><text x="0.00" y="0.00" font-size="13.85">N</text></g>
<g transform="translate(505.80,580.00) scale(1.1207,1)" font-family="Liberation Sans" font-weight="normal" font-style="normal" xml:space="preserve" stroke="#000" stroke-width="0.12" fill="#000"><text x="0.00" y="0.00" font-size="10.00">+</text></g>
<path d="M481.4,611.4 Q497,609 498.5,590" fill="none" stroke-width="1.2"/>
<polygon points="498.5,587.8 496.5,592.3 500.5,592.3" stroke="none" fill="#000"/>
<line x1="477.0" y1="667.5" x2="477.0" y2="682.2" stroke-width="1.7"/>
<g transform="translate(470.80,693.60) scale(1.0382,1)" font-family="Liberation Serif" font-weight="normal" font-style="normal" xml:space="preserve" stroke="#000" stroke-width="0.0" fill="#000"><text x="0.00" y="0.00" font-size="14.62">OCH</text><text x="30.86" y="3.33" font-size="10.52">3</text></g>
<line x1="514.3" y1="642.5" x2="578.5" y2="642.5" stroke-width="1.5"/>
<polygon points="582.7,642.5 575.7,640.1 575.7,644.9" stroke="none" fill="#000"/>
<path d="M526.8,632.5 C530,627.5 534.5,634.5 537.7,629.5" fill="none" stroke-width="1.2"/>
<g transform="translate(541.11,636.70) scale(0.9678,1)" font-family="Liberation Serif" font-weight="normal" font-style="italic" xml:space="preserve" stroke="#000" stroke-width="0" fill="#000"><text x="0.00" y="0.00" font-size="12.31">A</text></g>
<g transform="translate(551.30,636.70) scale(0.9750,1)" font-family="Liberation Serif" font-weight="normal" font-style="italic" xml:space="preserve" stroke="#000" stroke-width="0" fill="#000"><text x="0.00" y="0.00" font-size="12.31">r</text></g>
<line x1="557.8" y1="626.4" x2="564.3" y2="626.4" stroke-width="1.1"/>
<line x1="85.4" y1="775.4" x2="114.8" y2="775.4" stroke-width="1.5"/>
<polygon points="119.0,775.4 112.0,773.0 112.0,777.8" stroke="none" fill="#000"/>
<g transform="translate(123.40,780.10) scale(1.0686,1)" font-family="Liberation Sans" font-weight="normal" font-style="normal" xml:space="preserve" stroke="#000" stroke-width="0.12" fill="#000"><text x="0.00" y="0.00" font-size="13.57">C</text><text x="9.80" y="3.33" font-size="9.77">2</text><text x="15.23" y="0.00" font-size="13.57">H</text><text x="25.04" y="3.33" font-size="9.77">5</text></g>
<line x1="161.0" y1="775.4" x2="168.6" y2="775.4" stroke-width="1.7"/>
<g transform="translate(174.70,780.60) scale(0.9431,1)" font-family="Liberation Sans" font-weight="normal" font-style="normal" xml:space="preserve" stroke="#000" stroke-width="0.12" fill="#000"><text x="0.00" y="0.00" font-size="14.29">C</text></g>
<g transform="translate(177.00,768.00) scale(0.9229,1)" font-family="Liberation Sans" font-weight="normal" font-style="normal" xml:space="preserve" stroke="#000" stroke-width="0.45" fill="#000"><text x="0.00" y="0.00" font-size="12.14">+</text></g>
<line x1="188.8" y1="773.0" x2="197.5" y2="773.0" stroke-width="1.4"/>
<line x1="188.8" y1="777.3" x2="197.5" y2="777.3" stroke-width="1.4"/>
<g transform="translate(201.80,780.60) scale(0.9528,1)" font-family="Liberation Sans" font-weight="normal" font-style="normal" xml:space="preserve" stroke="#000" stroke-width="0.12" fill="#000"><text x="0.00" y="0.00" font-size="14.29">N</text></g>
<line x1="214.8" y1="775.5" x2="226.1" y2="776.0" stroke-width="1.7"/>
<polygon points="226.8,776.0 239.3,754.5 264.3,754.5 276.8,776.0 264.3,797.5 239.3,797.5" fill="none" stroke-width="1.7" stroke-linejoin="round"/>
<circle cx="251.8" cy="776.0" r="15.0" fill="none" stroke-width="1.2"/>
<line x1="277.4" y1="776.0" x2="290.5" y2="776.0" stroke-width="1.7"/>
<g transform="translate(290.80,783.60) scale(0.9968,1)" font-family="Liberation Serif" font-weight="normal" font-style="normal" xml:space="preserve" stroke="#000" stroke-width="0.0" fill="#000"><text x="0.00" y="0.00" font-size="15.38">OCH</text><text x="32.48" y="3.50" font-size="11.08">3</text></g>
<path d="M347,754.3 Q302,733 252,740 Q210,748 191.5,763.5" fill="none" stroke-width="1.2"/>
<polygon points="188.3,766.2 193.7,764.8 190.6,761.1" stroke="none" fill="#000"/>
<g transform="translate(343.40,771.40) scale(0.9427,1)" font-family="Liberation Sans" font-weight="normal" font-style="normal" xml:space="preserve" stroke="#000" stroke-width="0.12" fill="#000"><text x="0.00" y="0.00" font-size="14.00">HOH</text></g>
<circle cx="354.5" cy="756.0" r="0.95" stroke="none" fill="#000"/>
<circle cx="361.0" cy="756.0" r="0.95" stroke="none" fill="#000"/>
<circle cx="354.5" cy="775.5" r="0.95" stroke="none" fill="#000"/>
<circle cx="360.0" cy="775.5" r="0.95" stroke="none" fill="#000"/>
<line x1="332.4" y1="777.5" x2="375.8" y2="777.5" stroke-width="1.5"/>
<polygon points="380.0,777.5 373.0,775.1 373.0,779.9" stroke="none" fill="#000"/>
<g transform="translate(386.60,782.50) scale(1.0915,1)" font-family="Liberation Sans" font-weight="normal" font-style="normal" xml:space="preserve" stroke="#000" stroke-width="0.12" fill="#000"><text x="0.00" y="0.00" font-size="13.57">C</text><text x="9.80" y="3.33" font-size="9.77">2</text><text x="15.23" y="0.00" font-size="13.57">H</text><text x="25.04" y="3.33" font-size="9.77">5</text></g>
<line x1="424.6" y1="778.3" x2="432.2" y2="778.3" stroke-width="1.5"/>
<g transform="translate(438.00,782.50) scale(0.8699,1)" font-family="Liberation Sans" font-weight="normal" font-style="normal" xml:space="preserve" stroke="#000" stroke-width="0.12" fill="#000"><text x="0.00" y="0.00" font-size="13.57">C</text></g>
<line x1="451.2" y1="776.2" x2="458.8" y2="776.2" stroke-width="1.4"/>
<line x1="451.2" y1="780.4" x2="458.8" y2="780.4" stroke-width="1.4"/>
<g transform="translate(463.60,782.50) scale(0.9620,1)" font-family="Liberation Sans" font-weight="normal" font-style="normal" xml:space="preserve" stroke="#000" stroke-width="0.12" fill="#000"><text x="0.00" y="0.00" font-size="13.57">N</text></g>
<line x1="477.8" y1="778.3" x2="489.2" y2="778.0" stroke-width="1.7"/>
<line x1="441.7" y1="757.8" x2="441.7" y2="766.3" stroke-width="1.5"/>
<g transform="translate(437.00,755.90) scale(1.0837,1)" font-family="Liberation Sans" font-weight="normal" font-style="normal" xml:space="preserve" stroke="#000" stroke-width="0.12" fill="#000"><text x="0.00" y="0.00" font-size="12.86">OH</text></g>
<circle cx="440.8" cy="743.0" r="0.9" stroke="none" fill="#000"/>
<circle cx="446.5" cy="743.0" r="0.9" stroke="none" fill="#000"/>
<circle cx="434.0" cy="748.0" r="0.9" stroke="none" fill="#000"/>
<circle cx="434.0" cy="753.5" r="0.9" stroke="none" fill="#000"/>
<path d="M434.5,752 Q424,755 427,762 Q430,766 435,765.5" fill="none" stroke-width="1.2"/>
<polygon points="437.0,765.4 433.0,763.4 433.0,767.4" stroke="none" fill="#000"/>
<path d="M455,770 Q461,762 468,768" fill="none" stroke-width="1.2"/>
<polygon points="469.5,771.5 470.0,767.1 466.3,768.4" stroke="none" fill="#000"/>
<polygon points="489.2,778.0 501.1,757.2 524.9,757.2 536.8,778.0 524.9,798.8 501.1,798.8" fill="none" stroke-width="1.7" stroke-linejoin="round"/>
<circle cx="513.0" cy="778.0" r="13.0" fill="none" stroke-width="1.2"/>
<line x1="536.8" y1="778.0" x2="551.5" y2="778.0" stroke-width="1.7"/>
<g transform="translate(553.80,783.80) scale(1.1002,1)" font-family="Liberation Sans" font-weight="normal" font-style="normal" xml:space="preserve" stroke="#000" stroke-width="0.12" fill="#000"><text x="0.00" y="0.00" font-size="13.57">OCH</text><text x="30.16" y="3.33" font-size="9.77">3</text></g>
<line x1="598.1" y1="778.9" x2="637.5" y2="778.9" stroke-width="1.4"/>
<polygon points="641.7,778.9 634.7,776.5 634.7,781.3" stroke="none" fill="#000"/>
<path d="M602.5,769.5 C606,763.5 610,771.5 613.8,766" fill="none" stroke-width="1.5"/>
<g transform="translate(617.70,772.80) scale(0.7721,1)" font-family="Liberation Sans" font-weight="normal" font-style="normal" xml:space="preserve" stroke="#000" stroke-width="0.12" fill="#000"><text x="0.00" y="0.00" font-size="14.57">H</text></g>
<g transform="translate(627.90,766.00) scale(0.9253,1)" font-family="Liberation Sans" font-weight="normal" font-style="normal" xml:space="preserve" stroke="#000" stroke-width="0.5" fill="#000"><text x="0.00" y="0.00" font-size="12.86">+</text></g>
<line x1="82.4" y1="849.7" x2="111.2" y2="849.7" stroke-width="1.5"/>
<polygon points="115.4,849.7 108.4,847.3 108.4,852.1" stroke="none" fill="#000"/>
<g transform="translate(120.30,855.00) scale(1.0539,1)" font-family="Liberation Serif" font-weight="normal" font-style="normal" xml:space="preserve" stroke="#000" stroke-width="0.0" fill="#000"><text x="0.00" y="0.00" font-size="15.38">C</text><text x="10.26" y="3.50" font-size="11.08">2</text><text x="15.80" y="0.00" font-size="15.38">H</text><text x="26.91" y="3.50" font-size="11.08">5</text></g>
<line x1="159.3" y1="849.5" x2="167.8" y2="849.5" stroke-width="1.9"/>
<g transform="translate(174.40,854.30) scale(0.8287,1)" font-family="Liberation Serif" font-weight="normal" font-style="normal" xml:space="preserve" stroke="#000" stroke-width="0.0" fill="#000"><text x="0.00" y="0.00" font-size="14.77">C</text></g>
<line x1="177.3" y1="832.6" x2="177.3" y2="840.7" stroke-width="1.3"/>
<line x1="181.3" y1="832.6" x2="181.3" y2="840.7" stroke-width="1.3"/>
<g transform="translate(175.00,829.20) scale(0.9630,1)" font-family="Liberation Serif" font-weight="normal" font-style="normal" xml:space="preserve" stroke="#000" stroke-width="0.0" fill="#000"><text x="0.00" y="0.00" font-size="13.85">O</text></g>
<g transform="translate(167.00,819.70) scale(0.9211,1)" font-family="Liberation Sans" font-weight="normal" font-style="normal" xml:space="preserve" stroke="#000" stroke-width="0.4" fill="#000"><text x="0.00" y="0.00" font-size="12.86">δ−</text></g>
<g transform="translate(162.20,842.00) scale(0.6959,1)" font-family="Liberation Sans" font-weight="normal" font-style="normal" xml:space="preserve" stroke="#000" stroke-width="0.4" fill="#000"><text x="0.00" y="0.00" font-size="12.86">δ+</text></g>
<line x1="189.8" y1="849.5" x2="197.8" y2="849.5" stroke-width="1.9"/>
<g transform="translate(204.30,854.30) scale(0.9545,1)" font-family="Liberation Serif" font-weight="normal" font-style="normal" xml:space="preserve" stroke="#000" stroke-width="0.0" fill="#000"><text x="0.00" y="0.00" font-size="14.77">HN</text></g>
<line x1="226.0" y1="849.5" x2="243.4" y2="849.8" stroke-width="1.7"/>
<polygon points="243.0,850.0 255.5,829.0 280.5,829.0 293.0,850.0 280.5,871.0 255.5,871.0" fill="none" stroke-width="1.7" stroke-linejoin="round"/>
<circle cx="268.0" cy="850.0" r="14.0" fill="none" stroke-width="1.2"/>
<line x1="293.3" y1="850.0" x2="305.5" y2="850.0" stroke-width="1.7"/>
<g transform="translate(306.70,856.20) scale(0.9968,1)" font-family="Liberation Serif" font-weight="normal" font-style="normal" xml:space="preserve" stroke="#000" stroke-width="0.0" fill="#000"><text x="0.00" y="0.00" font-size="15.38">OCH</text><text x="32.48" y="3.50" font-size="11.08">3</text></g>
<path d="M192,853.6 Q196,866 214,859.5" fill="none" stroke-width="1.2"/>
<polygon points="216.5,858.3 211.5,858.6 213.7,862.5" stroke="none" fill="#000"/>
<path d="M370,824.4 Q320,795 260,806 Q215,815 190.5,839" fill="none" stroke-width="1.2"/>
<polygon points="188.7,841.4 193.8,839.1 190.1,836.0" stroke="none" fill="#000"/>
<g transform="translate(360.50,845.20) scale(1.0123,1)" font-family="Liberation Sans" font-weight="normal" font-style="normal" xml:space="preserve" stroke="#000" stroke-width="0.12" fill="#000"><text x="0.00" y="0.00" font-size="13.57">HOH</text></g>
<circle cx="372.6" cy="831.3" r="0.95" stroke="none" fill="#000"/>
<circle cx="379.3" cy="831.3" r="0.95" stroke="none" fill="#000"/>
<circle cx="372.0" cy="847.8" r="0.95" stroke="none" fill="#000"/>
<circle cx="378.7" cy="847.8" r="0.95" stroke="none" fill="#000"/>
<line x1="347.0" y1="851.3" x2="392.8" y2="851.3" stroke-width="1.5"/>
<polygon points="397.0,851.3 390.0,848.9 390.0,853.7" stroke="none" fill="#000"/>
<g transform="translate(402.40,856.70) scale(0.9912,1)" font-family="Liberation Serif" font-weight="normal" font-style="normal" xml:space="preserve" stroke="#000" stroke-width="0" fill="#000"><text x="0.00" y="0.00" font-size="16.15">C</text><text x="10.78" y="3.67" font-size="11.63">2</text><text x="16.59" y="0.00" font-size="16.15">H</text><text x="28.26" y="3.67" font-size="11.63">5</text><text x="34.07" y="0.00" font-size="16.15">C</text></g>
<line x1="441.8" y1="836.0" x2="441.8" y2="843.6" stroke-width="1.3"/>
<line x1="445.0" y1="836.0" x2="445.0" y2="843.6" stroke-width="1.3"/>
<g transform="translate(439.30,831.70) scale(0.8268,1)" font-family="Liberation Serif" font-weight="normal" font-style="normal" xml:space="preserve" stroke="#000" stroke-width="0.0" fill="#000"><text x="0.00" y="0.00" font-size="14.62">O</text></g>
<line x1="451.2" y1="852.3" x2="457.7" y2="852.3" stroke-width="1.5"/>
<circle cx="454.5" cy="862.0" r="1" stroke="none" fill="#000"/>
<g transform="translate(465.30,856.70) scale(0.8892,1)" font-family="Liberation Serif" font-weight="normal" font-style="normal" xml:space="preserve" stroke="#000" stroke-width="0.0" fill="#000"><text x="0.00" y="0.00" font-size="15.38">OH</text></g>
<g transform="translate(496.80,856.00) scale(0.9655,1)" font-family="Liberation Sans" font-weight="normal" font-style="normal" xml:space="preserve" stroke="#000" stroke-width="0.35" fill="#000"><text x="0.00" y="0.00" font-size="13.57">+</text></g>
<g transform="translate(514.20,856.70) scale(0.9377,1)" font-family="Liberation Serif" font-weight="normal" font-style="normal" xml:space="preserve" stroke="#000" stroke-width="0.0" fill="#000"><text x="0.00" y="0.00" font-size="15.38">H</text><text x="11.11" y="3.50" font-size="11.08">2</text><text x="16.65" y="0.00" font-size="15.38">N</text></g>
<line x1="545.0" y1="854.0" x2="554.7" y2="854.0" stroke-width="1.7"/>
<polygon points="554.8,853.5 566.9,832.0 591.1,832.0 603.2,853.5 591.1,875.0 566.9,875.0" fill="none" stroke-width="1.7" stroke-linejoin="round"/>
<circle cx="579.0" cy="853.5" r="14.0" fill="none" stroke-width="1.2"/>
<line x1="603.2" y1="853.5" x2="611.7" y2="853.5" stroke-width="1.7"/>
<g transform="translate(612.60,860.60) scale(0.9211,1)" font-family="Liberation Sans" font-weight="normal" font-style="normal" xml:space="preserve" stroke="#000" stroke-width="0.12" fill="#000"><text x="0.00" y="0.00" font-size="15.71">OCH</text><text x="34.92" y="3.85" font-size="11.31">3</text></g>
<g transform="translate(151.40,895.00) scale(1.0762,1)" font-family="Liberation Sans" font-weight="normal" font-style="normal" xml:space="preserve" stroke="#000" stroke-width="0.12" fill="#000"><text x="0.00" y="0.00" font-size="13.57">N~Пропионил-п -анизидин·</text></g>
<g transform="translate(403.40,898.10) scale(1.0192,1)" font-family="Liberation Sans" font-weight="normal" font-style="normal" xml:space="preserve" stroke="#000" stroke-width="0.12" fill="#000"><text x="0.00" y="0.00" font-size="13.57">Пропионовая</text></g>
<g transform="translate(420.60,910.00) scale(1.0149,1)" font-family="Liberation Sans" font-weight="normal" font-style="normal" xml:space="preserve" stroke="#000" stroke-width="0.12" fill="#000"><text x="0.00" y="0.00" font-size="13.57">кислота</text></g>
<g transform="translate(537.60,899.50) scale(1.0448,1)" font-family="Liberation Sans" font-weight="normal" font-style="normal" xml:space="preserve" stroke="#000" stroke-width="0.12" fill="#000"><text x="0.00" y="0.00" font-size="13.57">п-Анизидин</text></g>
<path d="M87.8,946.5 Q82.5,954.5 88.3,962.8" fill="none" stroke-width="1.5"/>
<g transform="translate(91.49,959.60) scale(0.7513,1)" font-family="Liberation Sans" font-weight="normal" font-style="italic" xml:space="preserve" stroke="#000" stroke-width="0.35" fill="#000"><text x="0.00" y="0.00" font-size="15.71">A</text></g>
<g transform="translate(103.00,959.60) scale(1.0663,1)" font-family="Liberation Sans" font-weight="normal" font-style="italic" xml:space="preserve" stroke="#000" stroke-width="0.35" fill="#000"><text x="0.00" y="0.00" font-size="15.71">r</text></g>
<line x1="117.5" y1="955.0" x2="127.5" y2="955.0" stroke-width="1.8"/>
<polygon points="168.6,932.4 189.8,944.6 189.8,969.0 168.6,981.2 147.4,969.0 147.4,944.6" fill="none" stroke-width="1.7" stroke-linejoin="round"/>
<circle cx="168.6" cy="956.8" r="13.4" fill="none" stroke-width="1.2"/>
<line x1="189.6" y1="944.3" x2="215.3" y2="945.0" stroke-width="1.7"/>
<line x1="220.2" y1="961.8" x2="219.4" y2="965.5" stroke-width="2.2"/>
<polygon points="280.2,933.6 301.4,945.9 301.4,970.6 280.2,983.0 259.0,970.6 259.0,945.9" fill="none" stroke-width="1.7" stroke-linejoin="round"/>
<circle cx="280.2" cy="958.3" r="13.0" fill="none" stroke-width="1.2"/>
<polygon points="322.5,933.6 343.7,945.9 343.7,970.6 322.5,983.0 301.3,970.6 301.3,945.9" fill="none" stroke-width="1.7" stroke-linejoin="round"/>
<circle cx="322.5" cy="958.3" r="13.0" fill="none" stroke-width="1.2"/>
<line x1="343.7" y1="946.0" x2="367.5" y2="946.8" stroke-width="1.7"/>
<path d="M379.6,951 Q384.5,958.5 379.8,966.5" fill="none" stroke-width="1.6"/>
<circle cx="393.7" cy="965.6" r="1.8" stroke="none" fill="#000"/>
<g transform="translate(633.08,1016.10) scale(0.9269,1)" font-family="Liberation Serif" font-weight="bold" font-style="italic" xml:space="preserve" stroke="#000" stroke-width="0.8" fill="#000"><text x="0.00" y="0.00" font-size="15.08">297</text></g>
</svg></body></html>
